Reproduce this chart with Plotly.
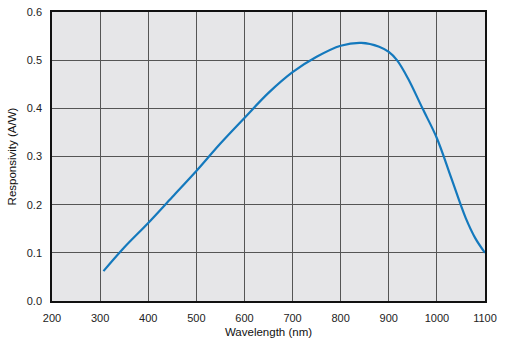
import plotly.graph_objects as go

wavelength = [307, 350, 400, 450, 500, 550, 600, 650, 700, 750, 800, 843, 880, 900,
              917, 940, 970, 1000, 1030, 1060, 1080, 1100]
responsivity = [0.062, 0.111, 0.162, 0.216, 0.270, 0.327, 0.380, 0.432, 0.475, 0.507,
                0.530, 0.536, 0.528, 0.517, 0.500, 0.462, 0.400, 0.338, 0.255, 0.172,
                0.130, 0.100]

x_ticks = [200, 300, 400, 500, 600, 700, 800, 900, 1000, 1100]
y_ticks = [0.0, 0.1, 0.2, 0.3, 0.4, 0.5, 0.6]

fig = go.Figure()
fig.add_trace(go.Scatter(
    x=wavelength, y=responsivity, mode="lines",
    line=dict(color="#1479bd", width=2.2, shape="spline", smoothing=1.0),
    showlegend=False, hoverinfo="skip",
))

font = dict(family="Liberation Sans, Arial, sans-serif", size=11, color="#222222")

fig.update_layout(
    width=511, height=345,
    margin=dict(l=52, r=26, t=12, b=44),
    paper_bgcolor="white",
    plot_bgcolor="#e6e6e8",
    font=font,
)
fig.update_xaxes(
    range=[200, 1100], tickvals=x_ticks, ticktext=[str(v) for v in x_ticks],
    showgrid=True, gridcolor="#555555", gridwidth=1,
    showline=True, linecolor="#111111", linewidth=1.5, mirror=True,
    zeroline=False, ticks="", ticklabelstandoff=6, automargin=False,
    title=dict(text="Wavelength (nm)", font=dict(size=11.5, color="#111111"), standoff=5),
)
fig.update_yaxes(
    range=[0, 0.6], tickvals=y_ticks, ticktext=[f"{v:.1f}" for v in y_ticks],
    showgrid=True, gridcolor="#555555", gridwidth=1,
    showline=True, linecolor="#111111", linewidth=1.5, mirror=True,
    zeroline=False, ticks="", ticklabelstandoff=6, automargin=False,
    title=dict(text="Responsivity (A/W)", font=dict(size=11.5, color="#111111"), standoff=8),
)

fig.write_html("out.html")
